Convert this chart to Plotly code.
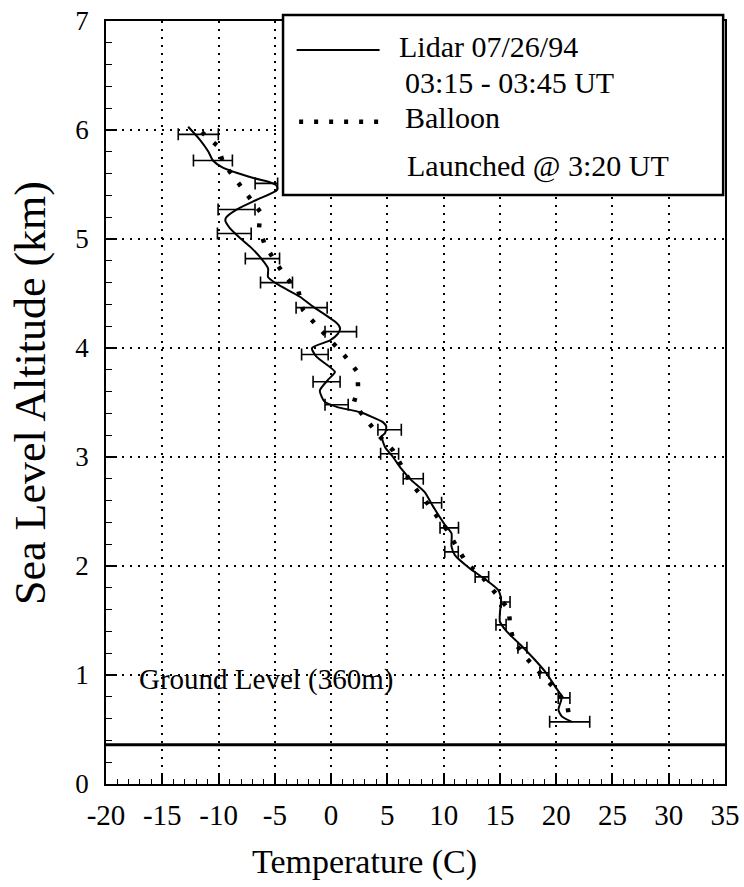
import plotly.graph_objects as go

# ---------------- data ----------------
# Lidar temperature profile (solid line), top to bottom
lidar_T = [-12.7, -11.65, -10.9, -10.5, -9.7, -6.9, -5.4, -4.84, -4.8, -6.6, -8.4, -9.3, -9.4, -9.0,
           -8.1, -7.2, -6.2, -5.6, -5.6, -4.85, -2.77, -1.6, 0.49, 0.8, 0.6, -0.1, -1.7, -1.3, 0.34,
           -0.26, -1.0, -0.6, 0.5, 2.6, 4.6, 4.9, 4.8, 4.5, 4.8, 5.5, 6.25, 7.1, 8.3, 9.1, 10.1,
           10.7, 10.7, 11.0, 12.3, 13.8, 14.85, 15.1, 15.0, 15.0, 15.6, 16.8, 18.1, 19.1, 20.0,
           20.5, 20.2, 20.5, 21.4]
lidar_alt = [6.03, 5.91, 5.80, 5.72, 5.66, 5.56, 5.52, 5.49, 5.45, 5.36, 5.27, 5.20, 5.17, 5.10,
             5.01, 4.93, 4.82, 4.73, 4.65, 4.59, 4.47, 4.38, 4.23, 4.18, 4.13, 4.07, 4.00, 3.92, 3.78,
             3.71, 3.61, 3.51, 3.46, 3.41, 3.32, 3.28, 3.22, 3.19, 3.09, 3.00, 2.89, 2.79, 2.68, 2.54,
             2.38, 2.30, 2.18, 2.10, 1.98, 1.87, 1.78, 1.69, 1.57, 1.49, 1.40, 1.28, 1.14, 1.02, 0.88,
             0.80, 0.68, 0.62, 0.57]

# Lidar error bars (centre temperature, altitude, half-width)
err_T = [-11.8, -10.5, -5.75, -8.4, -8.6, -6.1, -4.85, -1.73, 0.86, -1.44, -0.4, 0.49, 5.2, 5.2,
         7.3, 9.0, 10.5, 10.7, 13.4, 15.5, 15.1, 17.0, 18.95, 20.7, 21.2]
err_alt = [5.96, 5.72, 5.51, 5.27, 5.05, 4.82, 4.60, 4.37, 4.15, 3.94, 3.69, 3.48, 3.25, 3.03,
           2.80, 2.58, 2.35, 2.13, 1.90, 1.67, 1.46, 1.25, 1.02, 0.79, 0.57]
err_hw = [1.78, 1.73, 1.0, 1.64, 1.5, 1.52, 1.42, 1.38, 1.4, 1.18, 1.2, 1.03, 1.04, 0.8,
          0.89, 0.82, 0.82, 0.6, 0.6, 0.4, 0.45, 0.4, 0.4, 0.52, 1.78]

# Balloon sonde profile (dotted line)
balloon_T = [-11.5, -10.05, -9.6, -8.5, -7.4, -6.3, -6.4, -5.9, -5.0, -4.1, -2.9, -2.5, -1.4, -0.1,
             1.2, 2.35, 2.4, 2.0, 3.1, 4.3, 5.5, 6.25, 7.1, 8.3, 9.3, 10.3, 11.3, 12.1, 13.5, 14.7,
             15.8, 15.9, 16.2, 17.4, 18.8, 20.0, 21.0, 21.2]
balloon_alt = [5.98, 5.85, 5.70, 5.55, 5.39, 5.25, 5.10, 4.95, 4.80, 4.66, 4.52, 4.35, 4.22, 4.07,
               3.93, 3.78, 3.63, 3.49, 3.34, 3.19, 3.06, 2.91, 2.76, 2.61, 2.47, 2.33, 2.15, 2.02,
               1.89, 1.73, 1.60, 1.45, 1.31, 1.15, 1.00, 0.86, 0.72, 0.57]

# Ground level (360 m)
ground_T = [-20, 35]
ground_alt = [0.36, 0.36]

x_ticks = [-20, -15, -10, -5, 0, 5, 10, 15, 20, 25, 30, 35]
y_ticks = [0, 1, 2, 3, 4, 5, 6, 7]

legend_lines = ["Lidar 07/26/94", "03:15 - 03:45 UT", "Balloon", "Launched @ 3:20 UT"]

FONT = "Liberation Serif, Times New Roman, serif"

# ---------------- figure ----------------
fig = go.Figure()

fig.add_trace(go.Scatter(x=ground_T, y=ground_alt, mode="lines",
                         line=dict(color="black", width=3), showlegend=False, hoverinfo="skip"))

fig.add_trace(go.Scatter(x=balloon_T, y=balloon_alt, mode="lines", name="Balloon",
                         line=dict(color="black", width=4.5, dash="4px,12px"), showlegend=False))

fig.add_trace(go.Scatter(x=lidar_T, y=lidar_alt, mode="lines", name="Lidar",
                         line=dict(color="black", width=2, shape="spline", smoothing=0.6),
                         showlegend=False))

fig.add_trace(go.Scatter(x=err_T, y=err_alt, mode="markers",
                         marker=dict(size=1, color="rgba(0,0,0,0)"),
                         error_x=dict(type="data", array=err_hw, visible=True,
                                      color="black", thickness=1.6, width=6),
                         showlegend=False, hoverinfo="skip"))

axis_common = dict(showline=True, linecolor="black", linewidth=1.5, mirror=True,
                   ticks="inside", tickcolor="black", tickwidth=1.5, automargin=False,
                   showgrid=True, gridcolor="black", gridwidth=1.5, griddash="2px,6px",
                   zeroline=False)

fig.update_xaxes(range=[-20, 35], tickvals=x_ticks, ticktext=[str(v) for v in x_ticks],
                 ticklen=10, ticklabelstandoff=4,
                 tickfont=dict(family=FONT, size=29, color="black"),
                 minor=dict(dtick=1, ticks="inside", ticklen=5, tickcolor="black",
                            tickwidth=1.2, showgrid=False),
                 **axis_common)
fig.update_yaxes(range=[0, 7], tickvals=y_ticks, ticktext=[str(v) for v in y_ticks],
                 ticklen=11, ticklabelstandoff=10,
                 tickfont=dict(family=FONT, size=27, color="black"),
                 minor=dict(dtick=0.2, ticks="inside", ticklen=6, tickcolor="black",
                            tickwidth=1.2, showgrid=False),
                 **axis_common)

# legend box (manual, to match the original layout)
fig.add_shape(type="rect", xref="paper", yref="paper", x0=0.286, x1=0.997, y0=0.772, y1=1.008,
              line=dict(color="black", width=2.5), fillcolor="white", layer="above")
fig.add_shape(type="line", xref="paper", yref="paper", x0=0.308, x1=0.442, y0=0.962, y1=0.962,
              line=dict(color="black", width=2), layer="above")
fig.add_shape(type="line", xref="paper", yref="paper", x0=0.312, x1=0.442, y0=0.868, y1=0.868,
              line=dict(color="black", width=4.5, dash="4px,11px"), layer="above")

leg_pos = [(0.470, 0.966), (0.480, 0.919), (0.480, 0.873), (0.483, 0.810)]
for txt, (lx, ly) in zip(legend_lines, leg_pos):
    fig.add_annotation(text=txt, xref="paper", yref="paper", x=lx, y=ly, xanchor="left",
                       yanchor="middle", showarrow=False,
                       font=dict(family=FONT, size=30, color="black"))

fig.add_annotation(text="Ground Level (360m)", x=-5.7, y=0.96, xref="x", yref="y",
                   showarrow=False, xanchor="center", yanchor="middle",
                   font=dict(family=FONT, size=29, color="black"))

# axis titles
fig.add_annotation(text="Temperature (C)", xref="paper", yref="paper", x=(364 - 106) / 619,
                   y=(784 - 862) / 763, xanchor="center", yanchor="middle", showarrow=False,
                   font=dict(family=FONT, size=34, color="black"))
fig.add_annotation(text="Sea Level Altitude (km)", xref="paper", yref="paper",
                   x=(30 - 106) / 619, y=(784 - 393) / 763, xanchor="center", yanchor="middle",
                   textangle=-90, showarrow=False,
                   font=dict(family=FONT, size=44, color="black"))

fig.update_layout(width=744, height=887, margin=dict(l=106, r=19, t=21, b=103),
                  paper_bgcolor="white", plot_bgcolor="white", showlegend=False)

fig.write_html("out.html")
